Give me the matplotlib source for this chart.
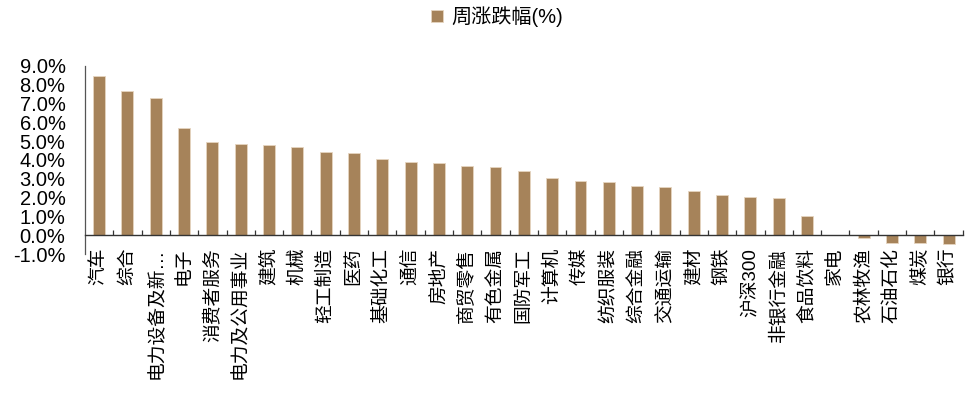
import matplotlib.pyplot as plt
from matplotlib.ticker import FixedLocator, PercentFormatter

plt.rcParams['font.family'] = ['Liberation Sans', 'Noto Sans CJK SC', 'DejaVu Sans']
plt.rcParams['axes.unicode_minus'] = False

# weekly change by sector, %
sectors = ['汽车', '综合', '电力设备及新…', '电子', '消费者服务', '电力及公用事业',
           '建筑', '机械', '轻工制造', '医药', '基础化工', '通信', '房地产',
           '商贸零售', '有色金属', '国防军工', '计算机', '传媒', '纺织服装',
           '综合金融', '交通运输', '建材', '钢铁', '沪深300', '非银行金融',
           '食品饮料', '家电', '农林牧渔', '石油石化', '煤炭', '银行']
weekly_chg = [8.45, 7.68, 7.27, 5.68, 4.95, 4.83, 4.78, 4.70, 4.45, 4.35,
              4.03, 3.87, 3.84, 3.68, 3.63, 3.43, 3.03, 2.90, 2.81, 2.64,
              2.56, 2.35, 2.14, 2.03, 1.96, 1.01, 0.00, -0.12, -0.43, -0.43,
              -0.48]

bar_color = '#A6835A'

fig = plt.figure(figsize=(9.71, 3.97), dpi=100)
ax = fig.add_axes([0.0875, 0.36, 0.904, 0.474])

x = range(len(sectors))
ax.bar(x, weekly_chg, width=0.42, color=bar_color, edgecolor='#E6D5C0',
       linewidth=0.6, label='周涨跌幅(%)', zorder=2)

ax.set_xlim(-0.5, len(sectors) - 0.5)
ax.set_ylim(-1, 9)
ax.set_yticks(range(-1, 10))
ax.yaxis.set_major_formatter(PercentFormatter(decimals=1))
ax.tick_params(axis='y', length=0, pad=14, labelsize=14.5)

# category axis sits on the zero line, small ticks between categories
for side in ['top', 'right']:
    ax.spines[side].set_visible(False)
ax.spines['bottom'].set_position(('data', 0))
ax.spines['bottom'].set_color('#333333')
ax.spines['bottom'].set_linewidth(1.0)
ax.spines['left'].set_color('#555555')
ax.spines['left'].set_linewidth(0.9)

ax.set_xticks(list(x))
ax.set_xticklabels(sectors, rotation=90)
ax.xaxis.set_minor_locator(FixedLocator([i + 0.5 for i in range(len(sectors))]))
ax.tick_params(axis='x', which='major', length=0, pad=9, labelsize=13.5)
ax.tick_params(axis='x', which='minor', direction='in', length=3.6,
               width=0.9, color='#333333')

fig.legend(loc='center', bbox_to_anchor=(0.512, 0.958), frameon=False,
           fontsize=14.5, handlelength=0.6, handleheight=0.6,
           handletextpad=0.4)

fig.savefig('out.png', dpi=100)
